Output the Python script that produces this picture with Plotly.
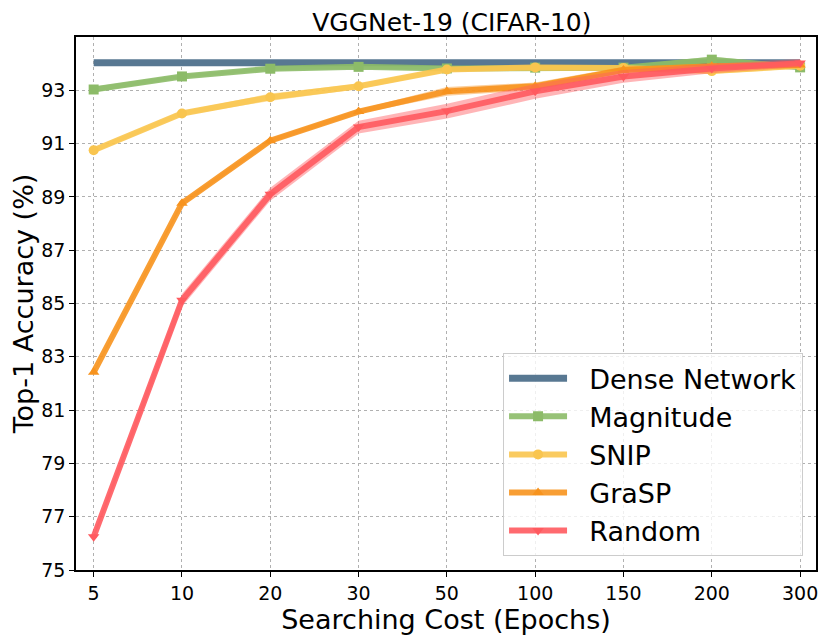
import plotly.graph_objects as go

epochs = ["5", "10", "20", "30", "50", "100", "150", "200", "300"]
dense = [94.03, 94.03, 94.03, 94.03, 94.03, 94.03, 94.03, 94.03, 94.03]
magnitude = [93.03, 93.52, 93.81, 93.88, 93.82, 93.85, 93.85, 94.15, 93.86]
magnitude_std = [0.10, 0.07, 0.07, 0.07, 0.07, 0.06, 0.07, 0.12, 0.07]
snip = [90.75, 92.13, 92.74, 93.15, 93.78, 93.86, 93.84, 93.72, 93.92]
snip_std = [0.08, 0.08, 0.14, 0.10, 0.08, 0.07, 0.07, 0.10, 0.10]
grasp = [82.42, 88.76, 91.11, 92.20, 92.96, 93.15, 93.76, 93.90, 93.95]
grasp_std = [0.06, 0.08, 0.08, 0.08, 0.16, 0.14, 0.12, 0.10, 0.08]
random_ = [76.25, 85.12, 89.10, 91.62, 92.22, 92.96, 93.52, 93.82, 94.02]
random_std = [0.10, 0.24, 0.24, 0.24, 0.28, 0.28, 0.24, 0.18, 0.15]

series = [
    ("Magnitude", magnitude, magnitude_std, "#8cbb68", "square"),
    ("SNIP", snip, snip_std, "#f9c54f", "circle"),
    ("GraSP", grasp, grasp_std, "#f7931e", "triangle-up"),
    ("Random", random_, random_std, "#ff5a5f", "triangle-down"),
]

def rgba(h, a):
    h = h.lstrip("#")
    r, g, b = int(h[0:2], 16), int(h[2:4], 16), int(h[4:6], 16)
    return f"rgba({r},{g},{b},{a})"

NB = "\u00a0\u00a0"

fig = go.Figure()
fig.add_trace(go.Scatter(x=epochs, y=dense, mode="lines", name=NB + "Dense Network",
                         line=dict(color="#587892", width=7)))

for name, vals, std, col, sym in series:
    up = [v + s for v, s in zip(vals, std)]
    lo = [v - s for v, s in zip(vals, std)]
    fig.add_trace(go.Scatter(x=epochs, y=up, mode="lines", line=dict(width=0, color=col),
                             showlegend=False, hoverinfo="skip"))
    fig.add_trace(go.Scatter(x=epochs, y=lo, mode="lines", line=dict(width=0, color=col),
                             fill="tonexty", fillcolor=rgba(col, 0.45),
                             showlegend=False, hoverinfo="skip"))
    fig.add_trace(go.Scatter(x=epochs, y=vals, mode="lines+markers", name=NB + name,
                             line=dict(color=rgba(col, 0.9), width=6),
                             marker=dict(symbol=sym, size=10, color=col)))

fig.update_layout(
    width=822, height=631,
    paper_bgcolor="white", plot_bgcolor="white",
    margin=dict(l=67, r=12, t=29, b=69),
    font=dict(family="DejaVu Sans", color="black"),
    title=dict(text="VGGNet-19 (CIFAR-10)", x=0.540, xanchor="center", y=0.977, yanchor="middle",
               font=dict(size=25, color="black")),
    legend=dict(x=0.9825, y=0.026, xanchor="right", yanchor="bottom",
                bgcolor="rgba(255,255,255,0.8)", bordercolor="#cccccc", borderwidth=1,
                font=dict(size=27), itemwidth=58, traceorder="normal"),
    showlegend=True,
)
fig.update_xaxes(type="category", range=[-0.2, 8.18],
                 title=dict(text="Searching Cost (Epochs)", font=dict(size=27), standoff=2),
                 showline=True, linecolor="black", linewidth=1.5, mirror=True,
                 ticks="outside", ticklen=5, tickcolor="black", tickfont=dict(size=19),
                 showgrid=True, gridcolor="#b0b0b0", griddash="dot", gridwidth=1)
fig.update_yaxes(range=[75.0, 95.0], tickvals=[75, 77, 79, 81, 83, 85, 87, 89, 91, 93],
                 title=dict(text="Top-1 Accuracy (%)", font=dict(size=27), standoff=2),
                 showline=True, linecolor="black", linewidth=1.5, mirror=True,
                 ticks="outside", ticklen=5, tickcolor="black", tickfont=dict(size=19),
                 showgrid=True, gridcolor="#b0b0b0", griddash="dot", gridwidth=1,
                 zeroline=False)
fig.write_html("out.html")
